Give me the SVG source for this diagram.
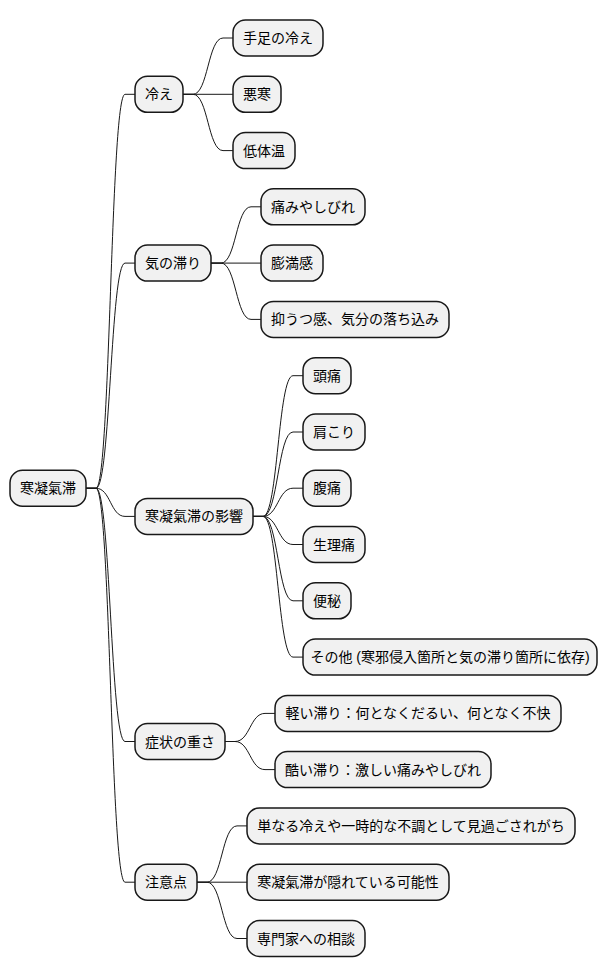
<svg xmlns="http://www.w3.org/2000/svg" width="616" height="978" viewBox="0 0 616 978">
<style>
.n rect{fill:#F1F1F1;stroke:#181818;stroke-width:1.5}
.n text{font-family:'Liberation Sans','Noto Sans CJK JP',sans-serif;font-size:14px;fill:#000;text-anchor:middle}
.c path{fill:none;stroke:#181818;stroke-width:1}
</style>
<rect width="616" height="978" fill="#FFFFFF"/>
<g class="c" id="connectors">
<path d="M86,488.25 L96,488.25 C110.5,488.25 110.5,94.3 125,94.3 L135,94.3"/>
<path d="M86,488.25 L96,488.25 C110.5,488.25 110.5,263.1 125,263.1 L135,263.1"/>
<path d="M86,488.25 L96,488.25 C110.5,488.25 110.5,516.4 125,516.4 L135,516.4"/>
<path d="M86,488.25 L96,488.25 C110.5,488.25 110.5,741.5 125,741.5 L135,741.5"/>
<path d="M86,488.25 L96,488.25 C110.5,488.25 110.5,882.2 125,882.2 L135,882.2"/>
<path d="M183,94.3 L193,94.3 C208,94.3 208,38 223,38 L233,38"/>
<path d="M183,94.3 L233,94.3"/>
<path d="M183,94.3 L193,94.3 C208,94.3 208,150.6 223,150.6 L233,150.6"/>
<path d="M211,263.1 L221,263.1 C236,263.1 236,206.8 251,206.8 L261,206.8"/>
<path d="M211,263.1 L261,263.1"/>
<path d="M211,263.1 L221,263.1 C236,263.1 236,319.4 251,319.4 L261,319.4"/>
<path d="M253,516.4 L263,516.4 C278,516.4 278,375.7 293,375.7 L303,375.7"/>
<path d="M253,516.4 L263,516.4 C278,516.4 278,432 293,432 L303,432"/>
<path d="M253,516.4 L263,516.4 C278,516.4 278,488.2 293,488.2 L303,488.2"/>
<path d="M253,516.4 L263,516.4 C278,516.4 278,544.5 293,544.5 L303,544.5"/>
<path d="M253,516.4 L263,516.4 C278,516.4 278,600.8 293,600.8 L303,600.8"/>
<path d="M253,516.4 L263,516.4 C278,516.4 278,657.1 293,657.1 L303,657.1"/>
<path d="M225,741.5 L235,741.5 C250,741.5 250,713.4 265,713.4 L275,713.4"/>
<path d="M225,741.5 L235,741.5 C250,741.5 250,769.6 265,769.6 L275,769.6"/>
<path d="M197,882.2 L207,882.2 C222,882.2 222,825.9 237,825.9 L247,825.9"/>
<path d="M197,882.2 L247,882.2"/>
<path d="M197,882.2 L207,882.2 C222,882.2 222,938.5 237,938.5 L247,938.5"/>
</g>
<g class="n" id="root"><rect x="10" y="470.25" width="76" height="36" rx="12.5"/><text x="48" y="493.25">寒凝氣滞</text></g>
<g class="n" id="hie"><rect x="135" y="76.3" width="48" height="36" rx="12.5"/><text x="159" y="99.3">冷え</text></g>
<g class="n" id="teashi"><rect x="233" y="20" width="90" height="36" rx="12.5"/><text x="278" y="43">手足の冷え</text></g>
<g class="n" id="okan"><rect x="233" y="76.3" width="48" height="36" rx="12.5"/><text x="257" y="99.3">悪寒</text></g>
<g class="n" id="teitaion"><rect x="233" y="132.6" width="62" height="36" rx="12.5"/><text x="264" y="155.6">低体温</text></g>
<g class="n" id="kinotodokori"><rect x="135" y="245.1" width="76" height="36" rx="12.5"/><text x="173" y="268.1">気の滞り</text></g>
<g class="n" id="itami"><rect x="261" y="188.8" width="104" height="36" rx="12.5"/><text x="313" y="211.8">痛みやしびれ</text></g>
<g class="n" id="bomankan"><rect x="261" y="245.1" width="62" height="36" rx="12.5"/><text x="292" y="268.1">膨満感</text></g>
<g class="n" id="yokuutsu"><rect x="261" y="301.4" width="188" height="36" rx="12.5"/><text x="355" y="324.4">抑うつ感、気分の落ち込み</text></g>
<g class="n" id="eikyo"><rect x="135" y="498.4" width="118" height="36" rx="12.5"/><text x="194" y="521.4">寒凝氣滞の影響</text></g>
<g class="n" id="zutsu"><rect x="303" y="357.7" width="48" height="36" rx="12.5"/><text x="327" y="380.7">頭痛</text></g>
<g class="n" id="katakori"><rect x="303" y="414" width="62" height="36" rx="12.5"/><text x="334" y="437">肩こり</text></g>
<g class="n" id="fukutsu"><rect x="303" y="470.2" width="48" height="36" rx="12.5"/><text x="327" y="493.2">腹痛</text></g>
<g class="n" id="seiritsu"><rect x="303" y="526.5" width="62" height="36" rx="12.5"/><text x="334" y="549.5">生理痛</text></g>
<g class="n" id="benpi"><rect x="303" y="582.8" width="48" height="36" rx="12.5"/><text x="327" y="605.8">便秘</text></g>
<g class="n" id="sonota"><rect x="303" y="639.1" width="294" height="36" rx="12.5"/><text x="450" y="662.1">その他 (寒邪侵入箇所と気の滞り箇所に依存)</text></g>
<g class="n" id="omosa"><rect x="135" y="723.5" width="90" height="36" rx="12.5"/><text x="180" y="746.5">症状の重さ</text></g>
<g class="n" id="karui"><rect x="275" y="695.4" width="286" height="36" rx="12.5"/><text x="418" y="718.4">軽い滞り：何となくだるい、何となく不快</text></g>
<g class="n" id="hidoi"><rect x="275" y="751.6" width="216" height="36" rx="12.5"/><text x="383" y="774.6">酷い滞り：激しい痛みやしびれ</text></g>
<g class="n" id="chuiten"><rect x="135" y="864.2" width="62" height="36" rx="12.5"/><text x="166" y="887.2">注意点</text></g>
<g class="n" id="minogasi"><rect x="247" y="807.9" width="328" height="36" rx="12.5"/><text x="411" y="830.9">単なる冷えや一時的な不調として見過ごされがち</text></g>
<g class="n" id="kakurete"><rect x="247" y="864.2" width="202" height="36" rx="12.5"/><text x="348" y="887.2">寒凝氣滞が隠れている可能性</text></g>
<g class="n" id="sodan"><rect x="247" y="920.5" width="118" height="36" rx="12.5"/><text x="306" y="943.5">専門家への相談</text></g>
</svg>
